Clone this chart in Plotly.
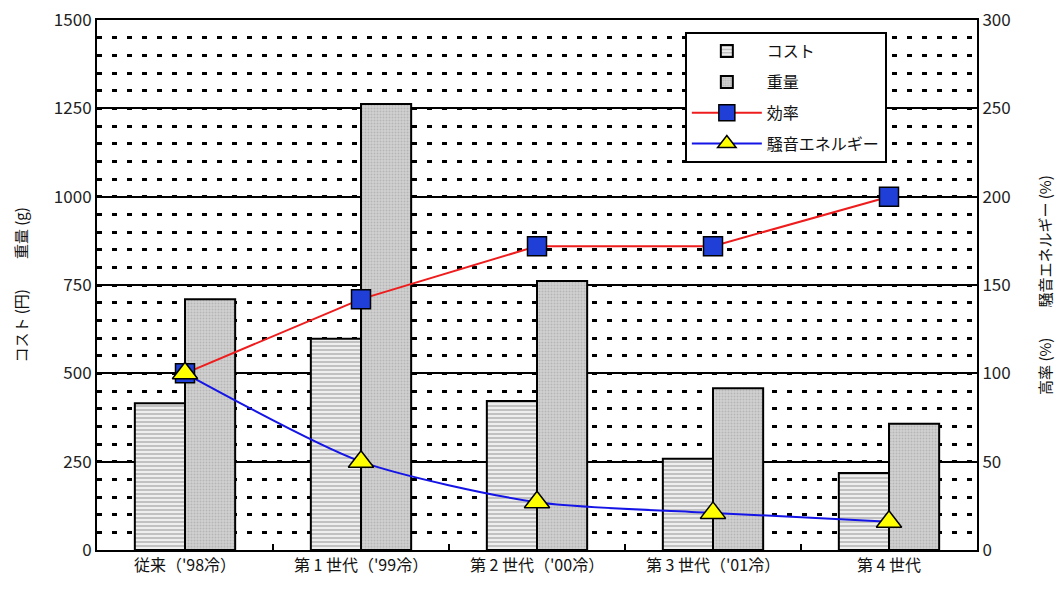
import plotly.graph_objects as go

categories = ["従来（'98冷）", "第 1 世代（'99冷）", "第 2 世代（'00冷）", "第 3 世代（'01冷）", "第 4 世代"]
cost = [415, 598, 422, 258, 218]          # コスト (円)
weight = [710, 1262, 761, 458, 357]       # 重量 (g)
efficiency = [100, 142, 172, 172, 200]    # 効率 (%)
noise = [100, 50, 27, 21, 16]             # 騒音エネルギー (%)

left_ticks = [0, 250, 500, 750, 1000, 1250, 1500]
right_ticks = [0, 50, 100, 150, 200, 250, 300]

FONT = "Noto Sans CJK JP"

fig = go.Figure()

fig.add_trace(go.Bar(
    x=categories, y=cost, name="コスト", offsetgroup="a", legendgroup="g1",
    marker=dict(color="#e6e6e6", line=dict(color="black", width=2),
                pattern=dict(shape="-", fgcolor="#8a8a8a", bgcolor="#eeeeee",
                             size=4, solidity=0.45)),
))
fig.add_trace(go.Bar(
    x=categories, y=weight, name="重量", offsetgroup="b", legendgroup="g2",
    marker=dict(color="#cccccc", line=dict(color="black", width=2),
                pattern=dict(shape=".", fgcolor="#9a9a9a", bgcolor="#d2d2d2",
                             size=3, solidity=0.4)),
))
fig.add_trace(go.Scatter(
    x=categories, y=efficiency, name="効率", yaxis="y2", mode="lines+markers",
    legendgroup="g3",
    line=dict(color="#ee1c1c", width=2),
    marker=dict(symbol="square", size=19, color="#1f3fd6",
                line=dict(color="black", width=1.5)),
))
fig.add_trace(go.Scatter(
    x=categories, y=noise, name="騒音エネルギー", yaxis="y2", mode="lines+markers",
    legendgroup="g4",
    line=dict(color="#1414e6", width=2, shape="spline", smoothing=0.7),
    marker=dict(symbol="triangle-up", size=22, color="#ffff00",
                line=dict(color="black", width=1.5)),
))

fig.update_layout(
    width=1061, height=590,
    margin=dict(l=97, r=84, t=20, b=40),
    plot_bgcolor="white", paper_bgcolor="white",
    font=dict(family=FONT, size=17, color="#222"),
    barmode="group", bargap=0.43, bargroupgap=0,
    showlegend=True,
    legend=dict(
        x=0.668, y=0.977, xanchor="left", yanchor="top",
        bgcolor="white", bordercolor="black", borderwidth=2,
        font=dict(family=FONT, size=16, color="#111"),
        itemwidth=70, tracegroupgap=7,
    ),
    xaxis=dict(
        showline=True, linecolor="black", linewidth=2, mirror=True,
        showgrid=False, ticks="inside", tickson="boundaries", ticklen=6,
        tickwidth=2, tickcolor="black",
        tickfont=dict(size=16, color="#111"), automargin=False,
    ),
    yaxis=dict(
        range=[0, 1500], tickvals=left_ticks, showline=True, linecolor="black",
        linewidth=2, showgrid=True, gridcolor="black", gridwidth=2,
        zeroline=False, ticks="", tickfont=dict(size=17), automargin=False,
        minor=dict(dtick=50, showgrid=True, gridcolor="black",
                   griddash="5px,10px", gridwidth=2.5),
    ),
    yaxis2=dict(
        range=[0, 300], tickvals=right_ticks, overlaying="y", side="right",
        showline=True, linecolor="black", linewidth=2, showgrid=False,
        zeroline=False, ticks="", tickfont=dict(size=17), automargin=False,
    ),
    annotations=[
        dict(text="コスト (円)　　重量 (g)", textangle=-90, xref="paper", yref="paper",
             x=-0.088, y=0.5, xanchor="center", yanchor="middle", showarrow=False,
             font=dict(family=FONT, size=15, color="#111")),
        dict(text="高率 (%)　　騒音エネルギー (%)", textangle=-90, xref="paper", yref="paper",
             x=1.076, y=0.5, xanchor="center", yanchor="middle", showarrow=False,
             font=dict(family=FONT, size=15, color="#111")),
    ],
)

fig.write_html("out.html")
